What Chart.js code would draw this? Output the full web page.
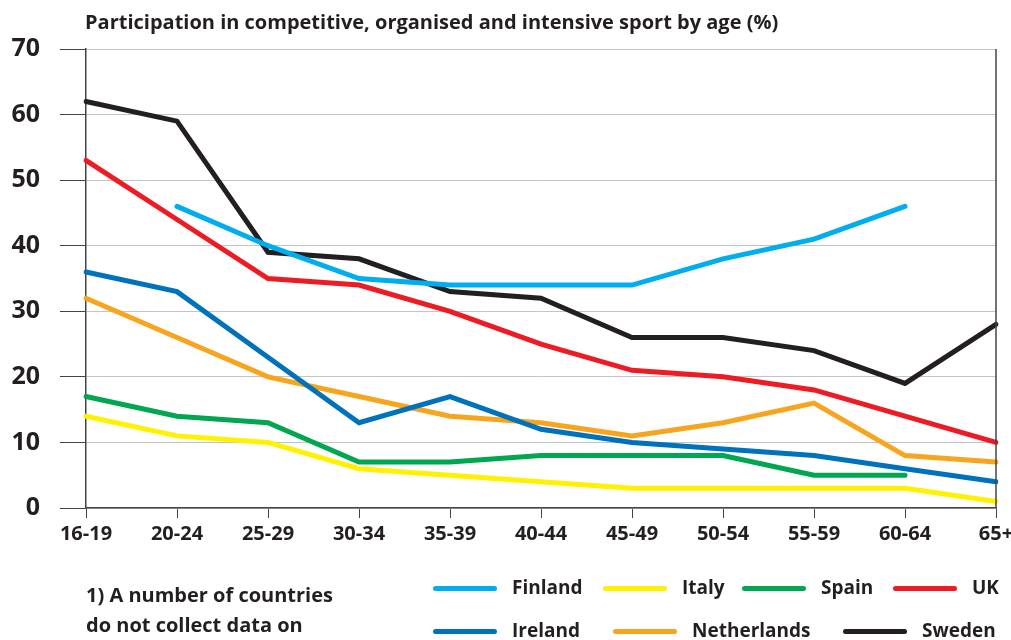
<!DOCTYPE html>
<html>
<head>
<meta charset="utf-8">
<script src="https://cdn.jsdelivr.net/npm/chart.js@4"></script>
<style>
  body { margin: 0; background: #fff; overflow: hidden; }
  #wrap { position: relative; width: 1011px; height: 640px; }
  #title { position: absolute; left: 85px; top: 8px; font: bold 20px "Open Sans"; color: #231f20; white-space: nowrap; }
  #note { position: absolute; left: 86px; top: 580px; font: bold 20px "Open Sans"; color: #231f20; line-height: 30px; }
  .leg { position: absolute; font: bold 19px "Open Sans"; color: #231f20; white-space: nowrap; }
  .leg span { display: inline-block; width: 64px; height: 5px; border-radius: 3px; vertical-align: middle; margin-right: 15px; }
</style>
</head>
<body>
<div id="wrap">
  <canvas id="myChart" width="1011" height="640"></canvas>
  <div id="title">Participation in competitive, organised and intensive sport by age (%)</div>
  <div id="note">1) A number of countries<br>do not collect data on<br>participation beyond 65</div>
</div>
<script>
const ages = ['16-19', '20-24', '25-29', '30-34', '35-39', '40-44', '45-49', '50-54', '55-59', '60-64', '65+'];
const finland = [null, 46, 40, 35, 34, 34, 34, 38, 41, 46, null];
const italy = [14, 11, 10, 6, 5, 4, 3, 3, 3, 3, 1];
const spain = [17, 14, 13, 7, 7, 8, 8, 8, 5, 5, null];
const uk = [53, 44, 35, 34, 30, 25, 21, 20, 18, 14, 10];
const ireland = [36, 33, 23, 13, 17, 12, 10, 9, 8, 6, 4];
const netherlands = [32, 26, 20, 17, 14, 13, 11, 13, 16, 8, 7];
const sweden = [62, 59, 39, 38, 33, 32, 26, 26, 24, 19, 28];
const yTicks = [0, 10, 20, 30, 40, 50, 60, 70];

const ink = '#231f20';

// legend places: [left, top] for each series, two rows
const legendPos = [[433, 574], [603, 574], [742, 574], [893, 574], [433, 617], [613, 617], [843, 617]];

const series = [
    { label: 'Finland', data: finland, color: '#00aeef' },
    { label: 'Italy', data: italy, color: '#fff200' },
    { label: 'Spain', data: spain, color: '#00a650' },
    { label: 'UK', data: uk, color: '#ed1c24' },
    { label: 'Ireland', data: ireland, color: '#0072bc' },
    { label: 'Netherlands', data: netherlands, color: '#f7a51e' },
    { label: 'Sweden', data: sweden, color: ink }
];

// dark border on the right side of the plot
const rightBorder = {
    id: 'rightBorder',
    afterDatasetsDraw(chart) {
        const a = chart.chartArea, c = chart.ctx;
        c.save();
        c.strokeStyle = '#444';
        c.lineWidth = 1.5;
        c.beginPath();
        c.moveTo(a.right, a.top);
        c.lineTo(a.right, a.bottom);
        c.stroke();
        c.restore();
    }
};

const ctx = document.getElementById('myChart');
new Chart(ctx, {
    type: 'line',
    data: {
        labels: ages,
        datasets: series.map(s => ({
            label: s.label,
            data: s.data,
            borderColor: s.color,
            backgroundColor: s.color,
            borderWidth: 5,
            borderCapStyle: 'round',
            pointRadius: 0,
            tension: 0
        }))
    },
    options: {
        responsive: false,
        animation: false,
        layout: { padding: { left: 0, right: 15, top: 49, bottom: 95 } },
        plugins: {
            legend: { display: false },
            tooltip: { enabled: false },
            title: { display: false }
        },
        scales: {
            x: {
                offset: false,
                grid: { drawOnChartArea: false, drawTicks: true, tickLength: 10, tickColor: '#444' },
                border: { color: '#444', width: 1.5 },
                ticks: { color: ink, font: { family: 'Open Sans', size: 20, weight: 'bold' }, padding: 4, maxRotation: 0, autoSkip: false },
                afterFit(scale) { scale.height = 37; scale.paddingLeft = 0; scale.paddingRight = 0; }
            },
            y: {
                min: 0,
                max: 70,
                afterBuildTicks(scale) { scale.ticks = yTicks.map(v => ({ value: v })); },
                grid: { color: '#c4c4c4', lineWidth: 1, tickLength: 26, tickColor: '#444' },
                border: { color: '#444', width: 1.5 },
                ticks: { color: ink, font: { family: 'Open Sans', size: 25, weight: 'bold' }, padding: 20 },
                afterFit(scale) { scale.width = 86; scale.paddingTop = 0; scale.paddingBottom = 0; }
            }
        }
    },
    plugins: [rightBorder]
});

series.forEach((s, i) => {
    const d = document.createElement('div');
    d.className = 'leg';
    d.style.left = legendPos[i][0] + 'px';
    d.style.top = legendPos[i][1] + 'px';
    d.innerHTML = '<span style="background:' + s.color + '"></span>' + s.label;
    document.getElementById('wrap').appendChild(d);
});
</script>
</body>
</html>
